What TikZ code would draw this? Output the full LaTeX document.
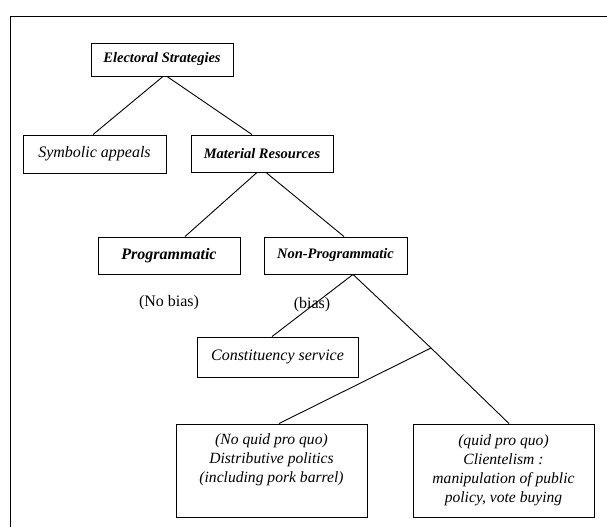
\documentclass[tikz,border=0pt]{standalone}
\usepackage{fontspec}
\setmainfont{Liberation Serif}
\usetikzlibrary{calc}
\begin{document}
\begin{tikzpicture}[x=1pt,y=-1pt,
  box/.style={draw,line width=0.9pt,inner sep=0pt,align=center},
  hd/.style={box,font=\fontsize{14.5}{17}\selectfont\bfseries\itshape},
  it/.style={box,font=\fontsize{16}{18}\selectfont\itshape},
  big/.style={box,font=\fontsize{15.6}{19}\selectfont\itshape},
  lbl/.style={inner sep=0pt,font=\fontsize{16}{18}\selectfont},
  conn/.style={line width=0.9pt}]
\useasboundingbox (0,0) rectangle (607,527);
\fill[white] (0,0) rectangle (607,527);
% frame
\coordinate (ftr) at (607,16);
\coordinate (ftl) at (10,16);
\coordinate (fbl) at (10,527);
\draw[conn] (ftr) -- (ftl) -- (fbl);
% nodes
\node[hd,minimum width=142pt,minimum height=33pt] (es) at (162,59.5) {Electoral Strategies};
\node[it,minimum width=143pt,minimum height=38pt] (sa) at (94.5,154) {Symbolic appeals};
\node[hd,minimum width=142pt,minimum height=37pt] (mr) at (262,153.5) {Material Resources};
\node[hd,minimum width=142pt,minimum height=37pt,font=\fontsize{16}{18}\selectfont\bfseries\itshape] (pg) at (169,255.5) {Programmatic};
\node[hd,minimum width=143pt,minimum height=37pt] (np) at (335.5,255.5) {Non-Programmatic};
\node[lbl] (nb) at (169,303) {(No bias)};
\node[lbl] (bi) at (312,305) {(bias)};
\node[it,minimum width=161pt,minimum height=40pt] (cs) at (277.5,357) {Constituency service};
\node[big,minimum width=191pt,minimum height=93pt] (lb) at (271.5,470.5) {(No quid pro quo)\\Distributive politics\\(including pork barrel)\\\strut};
\node[big,minimum width=181pt,minimum height=93pt] (rb) at (503.5,470.5) {(quid pro quo)\\Clientelism :\\manipulation of public\\policy, vote buying};
\coordinate (J) at (431,348);
% connectors
\draw[conn] ([xshift=1pt]es.south) -- ([xshift=-1.5pt]sa.north);
\draw[conn] ([xshift=5pt]es.south) -- ([xshift=-10pt]mr.north);
\draw[conn] ([xshift=-5pt]mr.south) -- ([xshift=16pt]pg.north);
\draw[conn] ([xshift=4pt]mr.south) -- ([xshift=8.5pt]np.north);
\draw[conn] ([xshift=17.5pt]np.south) -- ([xshift=-5.5pt]cs.north);
\draw[conn] ([xshift=17.5pt]np.south) -- (J) -- ([xshift=5.5pt]rb.north);
\draw[conn] (J) -- ([xshift=7.5pt]lb.north);
\end{tikzpicture}
\end{document}
